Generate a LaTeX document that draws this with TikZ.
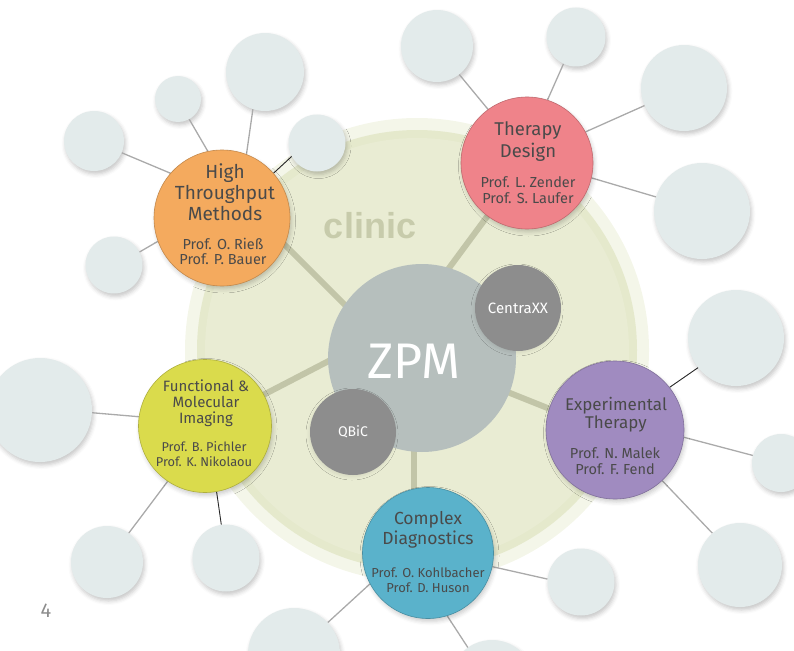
\documentclass[tikz,border=0pt]{standalone}
\usepackage{fontspec}
\setmainfont{Fira Sans}
\newfontfamily\clinicfont{Liberation Sans}
\usetikzlibrary{shadows.blur}
\definecolor{paleC}{HTML}{E3EBEB}
\definecolor{connC}{HTML}{AAAAAA}
\definecolor{spokeC}{HTML}{C2C5A8}
\definecolor{haloC}{HTML}{F4F6E9}
\definecolor{bandC}{HTML}{E5E9CC}
\definecolor{clinicC}{HTML}{E9ECD3}
\definecolor{clinicT}{HTML}{C7CBAB}
\definecolor{zpmC}{HTML}{B6BFBD}
\definecolor{darkC}{HTML}{8D8D8D}
\definecolor{htmC}{HTML}{F4AA5E}
\definecolor{tdC}{HTML}{EF838A}
\definecolor{fmiC}{HTML}{DADB4C}
\definecolor{etC}{HTML}{A08BC0}
\definecolor{cdC}{HTML}{5AB2CB}
\definecolor{txtC}{HTML}{4A4A4A}
\tikzset{
  pale/.style={circle, fill=paleC, minimum size=#1, inner sep=0pt,
    blur shadow={shadow xshift=1.5pt, shadow yshift=-3pt, shadow blur radius=4pt, shadow opacity=22}},
  anchorc/.style={circle, minimum size=#1, inner sep=0pt},
  sat/.style={circle, fill=#1, draw=#1!80!black, line width=0.6pt, inner sep=0pt,
    blur shadow={shadow xshift=1.5pt, shadow yshift=-3pt, shadow blur radius=4pt, shadow opacity=20}},
  hub/.style={circle, fill=darkC, minimum size=86pt, inner sep=0pt, text=white,
    font=\fontsize{15}{17}\selectfont,
    blur shadow={shadow xshift=-1pt, shadow yshift=-2pt, shadow blur radius=3pt, shadow opacity=8}},
  conn/.style={draw=connC, line width=1.3pt},
  blk/.style={draw=black!85, line width=0.9pt},
  spoke/.style={draw=spokeC, line width=6pt},
  ttl/.style={text=txtC, align=center, inner sep=0pt},
}
\begin{document}
\begin{tikzpicture}[x=1pt, y=-1pt]
\useasboundingbox (0,0) rectangle (794,650);
% clinic area
\node[circle, fill=haloC, minimum size=464pt, inner sep=0pt] (clinicHalo) at (417,350) {};
\node[circle, fill=bandC, minimum size=440pt, inner sep=0pt] (clinicBand) at (417,350) {};
\node[circle, fill=clinicC, minimum size=424pt, inner sep=0pt] (clinic) at (417,350) {};
\node[text=clinicT, font=\clinicfont\bfseries\fontsize{36}{40}\selectfont, inner sep=0pt] (clinicT) at (370,226) {clinic};

% pale satellites
\node[pale=60pt] (p1) at (94,141) {};
\node[pale=46pt] (p2) at (178,99) {};
\node[pale=78pt] (p3) at (265,72) {};
\node[pale=57pt] (p4) at (317,143) {};
\node[pale=57pt] (p5) at (114,265) {};
\node[pale=72pt] (p6) at (437,46) {};
\node[pale=59pt] (p7) at (576,37) {};
\node[pale=86pt] (p8) at (684,88) {};
\node[pale=96pt] (p9) at (702,211) {};
\node[pale=96pt] (p10) at (736,338) {};
\node[pale=58pt] (p11) at (781,463) {};
\node[pale=84pt] (p12) at (740,565) {};
\node[pale=67pt] (p13) at (581,582) {};
\node[pale=84pt] (p14) at (492,682) {};
\node[pale=104pt] (p15) at (40,410) {};
\node[pale=72pt] (p16) at (107,562) {};
\node[pale=67pt] (p17) at (226,558) {};
\node[pale=92pt] (p18) at (294,654) {};

% outlines of the coloured groups (for connector ends)
\node[anchorc=136pt] (htm) at (222,218) {};
\node[anchorc=132pt] (td) at (527,163) {};
\node[anchorc=133pt] (fmi) at (205,426) {};
\node[anchorc=138pt] (et) at (615,430) {};
\node[anchorc=131pt] (cd) at (428,553) {};

% spoke anchor coordinates (hidden under the discs)
\coordinate (sH1) at (255,215); \coordinate (sH2) at (383,343);
\coordinate (sT1) at (404,329); \coordinate (sT2) at (520,172);
\coordinate (sF1) at (240,407); \coordinate (sF2) at (400,324);
\coordinate (sE1) at (450,369); \coordinate (sE2) at (600,429);
\coordinate (sC1) at (414,400); \coordinate (sC2) at (414,540);

\draw[spoke] (sH2) -- (sH1);
\draw[spoke] (sT1) -- (sT2);
\draw[spoke] (sF2) -- (sF1);
\draw[spoke] (sE1) -- (sE2);
\draw[spoke] (sC1) -- (sC2);
% thin connectors
\draw[conn] (htm.139) -- (p1.-23);
\draw[conn] (htm.102) -- (p2.-61);
\draw[conn] (htm.69) -- (p3.-108);
\draw[blk] (htm.41) -- (p4.208);
\draw[conn] (htm.200) -- (p5.27);
\draw[conn] (td.126) -- (p6.-52);
\draw[conn] (td.72) -- (p7.-115);
\draw[conn] (td.28) -- (p8.204);
\draw[conn] (td.-13) -- (p9.163);
\draw[blk] (et.38) -- (p10.218);
\draw[conn] (et.-6) -- (p11.165);
\draw[conn] (et.-47) -- (p12.131);
\draw[conn] (cd.-12) -- (p13.175);
\draw[conn] (cd.-73) -- (p14.125);
\draw[conn] (fmi.172) -- (p15.-3);
\draw[conn] (fmi.-124) -- (p16.53);
\draw[blk] (fmi.-80) -- (p17.98);
\draw[conn] (cd.-152) -- (p18.43);

% ZPM core
\node[circle, fill=zpmC, minimum size=188pt, inner sep=0pt] (zpm) at (422,358) {};
\node[text=white, font=\fontsize{50}{56}\selectfont, inner sep=0pt] (zpmT) at (414,361) {ZPM};
\node[hub] (centraxx) at (518,308) {CentraXX};
\node[hub, font=\fontsize{14}{16}\selectfont] (qbic) at (353,432) {QBiC};

% coloured group discs
\node[sat=htmC, minimum size=136pt] (htmD) at (htm) {};
\node[sat=tdC, minimum size=132pt] (tdD) at (td) {};
\node[sat=fmiC, minimum size=133pt] (fmiD) at (fmi) {};
\node[sat=etC, minimum size=138pt] (etD) at (et) {};
\node[sat=cdC, minimum size=131pt] (cdD) at (cd) {};

% texts
\node[ttl, font=\fontsize{19}{21}\selectfont] (htmT) at (225,192) {High\\Throughput\\Methods};
\node[ttl, font=\fontsize{14.5}{15}\selectfont] (htmP) at (223,251) {Prof. O. Rieß\\Prof. P. Bauer};
\node[ttl, font=\fontsize{18.5}{22}\selectfont] (tdT) at (528,142) {Therapy\\Design};
\node[ttl, font=\fontsize{14.5}{16}\selectfont] (tdP) at (528,190) {Prof. L. Zender\\Prof. S. Laufer};
\node[ttl, font=\fontsize{15}{16}\selectfont] (fmiT) at (206,403) {Functional \&\\Molecular\\Imaging};
\node[ttl, font=\fontsize{12.8}{15}\selectfont] (fmiP) at (204,454) {Prof. B. Pichler\\Prof. K. Nikolaou};
\node[ttl, font=\fontsize{17}{18}\selectfont] (etT) at (616,415) {Experimental\\Therapy};
\node[ttl, font=\fontsize{14.5}{16}\selectfont] (etP) at (615,461) {Prof. N. Malek\\Prof. F. Fend};
\node[ttl, font=\fontsize{17.5}{20}\selectfont] (cdT) at (428,530) {Complex\\Diagnostics};
\node[ttl, font=\fontsize{13}{15}\selectfont] (cdP) at (428,580) {Prof. O. Kohlbacher\\Prof. D. Huson};

\node[text=black!45, font=\fontsize{20}{22}\selectfont, inner sep=0pt] (page) at (46,611) {4};
\end{tikzpicture}
\end{document}
